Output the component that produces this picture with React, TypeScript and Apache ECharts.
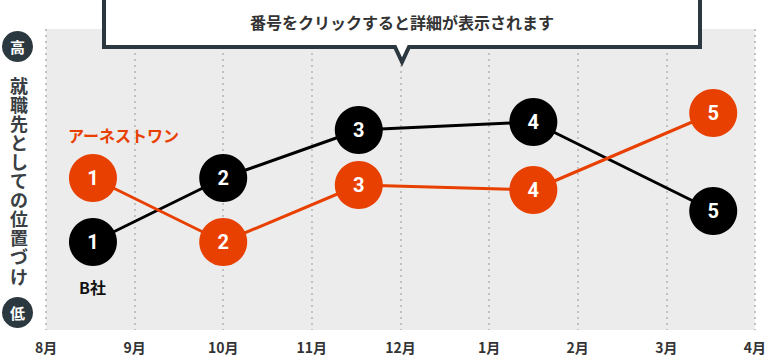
import React, { useEffect, useRef } from "react";
import * as echarts from "echarts";

const monthLabels = ["8月", "9月", "10月", "11月", "12月", "1月", "2月", "3月", "4月"];
const positionsX = [0.53, 2.0, 3.53, 5.5, 7.53];
const orangeValues = [152, 88, 145, 140, 217];
const blackValues = [88, 152, 200, 208, 119];
const orangeName = "アーネストワン";
const blackName = "B社";
const yTitle = "就職先としての位置づけ";
const calloutText = "番号をクリックすると詳細が表示されます";

const JP = '"Noto Sans CJK JP", "Noto Sans", sans-serif';
const NUM = 'Roboto, "Noto Sans", sans-serif';
const ORANGE = "#e84000";
const DARK = "#2b3840";

export default function App() {
  const ref = useRef<HTMLDivElement>(null);
  useEffect(() => {
    if (!ref.current) return;
    const chart = echarts.init(ref.current, undefined, { renderer: "svg" });
    const mk = (vals: number[]) => vals.map((v, i) => [positionsX[i], v]);
    const seriesBase = (name: string, vals: number[], color: string, z: number) => ({
      name,
      type: "line",
      data: mk(vals),
      z,
      symbol: "circle",
      symbolSize: 48,
      lineStyle: { color, width: 3 },
      itemStyle: { color },
      label: {
        show: true,
        position: "inside",
        formatter: (p: any) => String(p.dataIndex + 1),
        color: "#fff",
        fontFamily: NUM,
        fontWeight: "bold",
        fontSize: 20,
      },
      emphasis: { disabled: true },
    });
    chart.setOption({
      animation: false,
      grid: {
        left: 46,
        right: 13,
        top: 29,
        bottom: 26,
        show: true,
        backgroundColor: "#ececec",
        borderWidth: 0,
      },
      xAxis: {
        type: "value",
        min: 0,
        max: 8,
        interval: 1,
        axisLine: { show: false },
        axisTick: { show: false },
        axisLabel: {
          formatter: (v: number) => monthLabels[Math.round(v)] ?? "",
          color: "#333",
          fontFamily: JP,
          fontWeight: "bold",
          fontSize: 14,
          margin: 10,
        },
        splitLine: {
          show: true,
          lineStyle: { color: "#c2c2c2", width: 2, type: [2, 4] },
        },
      },
      yAxis: {
        type: "value",
        min: 0,
        max: 301,
        show: false,
        splitLine: { show: false },
      },
      series: [
        seriesBase(blackName, blackValues, "#000", 2),
        seriesBase(orangeName, orangeValues, ORANGE, 3),
      ],
      graphic: [
        {
          type: "polygon",
          z: 10,
          shape: {
            points: [
              [104, -5],
              [700, -5],
              [700, 47],
              [409, 47],
              [402, 62],
              [395, 47],
              [104, 47],
            ],
          },
          style: { fill: "#fff", stroke: DARK, lineWidth: 4, lineJoin: "miter" },
        },
        {
          type: "text",
          z: 11,
          x: 402,
          y: 22,
          style: {
            text: calloutText,
            fill: "#333",
            font: `bold 16px ${JP}`,
            align: "center",
            verticalAlign: "middle",
          },
        },
        { type: "circle", shape: { cx: 17.5, cy: 46.5, r: 15.5 }, style: { fill: DARK } },
        {
          type: "text",
          x: 17.5,
          y: 46.5,
          style: { text: "高", fill: "#fff", font: `bold 15px ${JP}`, align: "center", verticalAlign: "middle" },
        },
        { type: "circle", shape: { cx: 17.5, cy: 312.5, r: 15.5 }, style: { fill: DARK } },
        {
          type: "text",
          x: 17.5,
          y: 312.5,
          style: { text: "低", fill: "#fff", font: `bold 15px ${JP}`, align: "center", verticalAlign: "middle" },
        },
        {
          type: "text",
          x: 19,
          y: 75,
          style: {
            text: yTitle.split("").join("\n"),
            fill: "#3a3f44",
            font: `bold 18px ${JP}`,
            lineHeight: 19.1,
            align: "center",
            verticalAlign: "top",
          },
        },
        {
          type: "text",
          x: 68,
          y: 135,
          style: { text: orangeName, fill: ORANGE, font: `bold 16px ${JP}`, align: "left", verticalAlign: "middle" },
        },
        {
          type: "text",
          x: 79,
          y: 287,
          style: { text: blackName, fill: "#111", font: `bold 16px ${JP}`, align: "left", verticalAlign: "middle" },
        },
      ],
    });
    return () => chart.dispose();
  }, []);
  return (
    <div
      ref={ref}
      style={{ position: "absolute", left: 0, top: 0, width: 769, height: 356 }}
    />
  );
}
